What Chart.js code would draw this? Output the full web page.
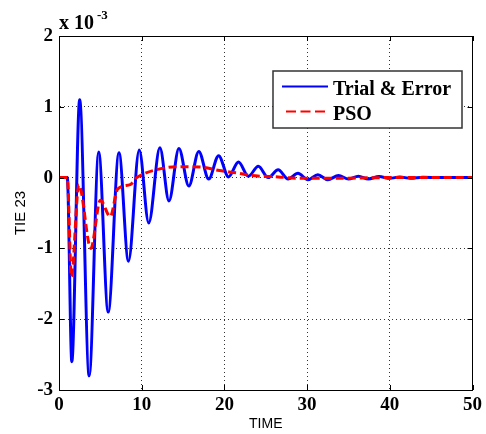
<!DOCTYPE html>
<html>
<head>
<meta charset="utf-8">
<script src="https://cdn.jsdelivr.net/npm/chart.js@4/dist/chart.umd.min.js"></script>
<style>
  html, body { margin: 0; padding: 0; background: #fff; }
  #wrap { position: relative; width: 486px; height: 434px; }
</style>
</head>
<body>
<div id="wrap"><canvas id="chart1"></canvas></div>
<script>
// Data (values in units of 10^-3)
// ========================================================================
var trialTime  = [0, 1.0, 1.55, 2.5, 3.65, 4.8, 5.95, 7.25, 8.4, 9.7, 10.85, 12.2, 13.3, 14.5, 15.7, 16.9, 18.1, 19.3, 20.5, 21.7, 22.9, 24.1, 25.3, 26.5, 27.7, 28.9, 30.1, 31.3, 32.5, 33.8, 35.0, 36.2, 37.4, 38.7, 40.0, 41.2, 42.5, 44.0, 46.0, 50.0];
var trialValue = [0, 0, -2.6, 1.1, -2.8, 0.36, -1.9, 0.35, -1.18, 0.39, -0.64, 0.42, -0.33, 0.41, -0.12, 0.37, -0.02, 0.31, 0.01, 0.22, 0.02, 0.16, 0.0, 0.11, -0.02, 0.06, -0.03, 0.04, -0.03, 0.03, -0.02, 0.02, -0.02, 0.015, -0.01, 0.01, -0.01, 0.005, 0, 0];

var psoTime  = [0, 1.0, 1.5, 2.4, 3.85, 5.0, 6.2, 7.1, 8.6, 9.4, 10.2, 11.4, 14.2, 17.0, 19.4, 21.8, 23.2, 26.5, 29.0, 33.0, 40.0, 50.0];
var psoValue = [0, 0, -1.4, -0.1, -1.0, -0.32, -0.55, -0.16, -0.1, 0.0, 0.05, 0.1, 0.155, 0.15, 0.1, 0.06, 0.03, 0.01, -0.01, -0.01, 0, 0];

var xTicks = [0, 10, 20, 30, 40, 50];
var yTicks = [-3, -2, -1, 0, 1, 2];

function toPoints(ts, vs) {
  return ts.map(function (t, i) { return { x: t, y: vs[i] }; });
}

var serifBold = { family: '"Liberation Serif", "Times New Roman", serif', size: 19, weight: 'bold' };

// Box, inward ticks, exponent and legend
// ========================================================================
var framePlugin = {
  id: 'frame',
  afterDatasetsDraw: function (chart) {
    var ctx = chart.ctx, a = chart.chartArea;
    var xs = chart.scales.x, ys = chart.scales.y;
    ctx.save();
    ctx.strokeStyle = '#000';
    ctx.lineWidth = 1;
    ctx.setLineDash([]);
    ctx.strokeRect(Math.round(a.left) + 0.5, Math.round(a.top) + 0.5,
      Math.round(a.right - a.left) - 1, Math.round(a.bottom - a.top));
    ctx.beginPath();
    xTicks.forEach(function (v) {
      var px = Math.round(xs.getPixelForValue(v)) + 0.5;
      ctx.moveTo(px, a.bottom); ctx.lineTo(px, a.bottom - 5);
      ctx.moveTo(px, a.top); ctx.lineTo(px, a.top + 5);
    });
    yTicks.forEach(function (v) {
      var py = Math.round(ys.getPixelForValue(v)) + 0.5;
      ctx.moveTo(a.left, py); ctx.lineTo(a.left + 5, py);
      ctx.moveTo(a.right, py); ctx.lineTo(a.right - 5, py);
    });
    ctx.stroke();

    // exponent
    ctx.fillStyle = '#000';
    ctx.textBaseline = 'alphabetic';
    ctx.font = 'bold 20px "Liberation Serif"';
    ctx.fillText('x 10', a.left, 29);
    var w = ctx.measureText('x 10').width;
    ctx.font = 'bold 13px "Liberation Serif"';
    ctx.fillText('-3', a.left + w + 3, 19);

    // legend
    var bx = 273, by = 71, bw = 189, bh = 57;
    ctx.fillStyle = '#fff';
    ctx.fillRect(bx, by, bw, bh);
    ctx.strokeStyle = '#333';
    ctx.lineWidth = 1.5;
    ctx.strokeRect(bx, by, bw, bh);
    var rows = [86.5, 111.5], bases = [95, 120];
    chart.data.datasets.forEach(function (ds, i) {
      ctx.strokeStyle = ds.borderColor;
      ctx.lineWidth = 2;
      ctx.setLineDash(ds.borderDash ? [10, 4.5] : []);
      ctx.beginPath();
      ctx.moveTo(ds.borderDash ? 286 : 282, rows[i]);
      ctx.lineTo(ds.borderDash ? 325 : 328, rows[i]);
      ctx.stroke();
      ctx.setLineDash([]);
      ctx.fillStyle = '#000';
      ctx.font = 'bold 20px "Liberation Serif"';
      ctx.fillText(ds.label, 333, bases[i]);
    });
    ctx.restore();
  }
};

// Chart
// ========================================================================
var chartEl = document.getElementById('chart1');
new Chart(chartEl, {
  type: 'line',
  data: {
    datasets: [{
      label: 'Trial & Error',
      data: toPoints(trialTime, trialValue),
      borderColor: '#0000ff',
      borderWidth: 3,
      pointRadius: 0,
      cubicInterpolationMode: 'monotone',
      fill: false,
      order: 2
    }, {
      label: 'PSO',
      data: toPoints(psoTime, psoValue),
      borderColor: '#ff0000',
      borderWidth: 3,
      borderDash: [8, 4],
      pointRadius: 0,
      cubicInterpolationMode: 'monotone',
      fill: false,
      order: 1
    }]
  },
  options: {
    responsive: true,
    maintainAspectRatio: false,
    animation: false,
    layout: { padding: { top: 36, right: 12, left: 0, bottom: 0 } },
    plugins: {
      legend: { display: false },
      tooltip: { enabled: false }
    },
    scales: {
      x: {
        type: 'linear',
        min: 0,
        max: 50,
        afterFit: function (scale) { scale.height = 44; },
        afterBuildTicks: function (scale) { scale.ticks = xTicks.map(function (v) { return { value: v }; }); },
        ticks: { font: serifBold, color: '#000', padding: 4, maxRotation: 0 },
        grid: { color: '#333', lineWidth: 1, drawTicks: false },
        border: { display: true, color: '#000', dash: [1, 3] },
        title: {
          display: true,
          text: 'TIME',
          color: '#000',
          font: { family: '"Liberation Sans", Arial, sans-serif', size: 14 },
          padding: { top: 0, bottom: 1 }
        }
      },
      y: {
        type: 'linear',
        min: -3,
        max: 2,
        afterFit: function (scale) { scale.width = 59; },
        afterBuildTicks: function (scale) { scale.ticks = yTicks.map(function (v) { return { value: v }; }); },
        ticks: { font: serifBold, color: '#000', padding: 6, callback: function (v) { return String(v); } },
        grid: { color: '#333', lineWidth: 1, drawTicks: false },
        border: { display: true, color: '#000', dash: [1, 3] },
        title: {
          display: true,
          text: 'TIE 23',
          color: '#000',
          font: { family: '"Liberation Sans", Arial, sans-serif', size: 15 },
          padding: { top: 12, bottom: 0 }
        }
      }
    }
  },
  plugins: [framePlugin]
});
</script>
</body>
</html>
